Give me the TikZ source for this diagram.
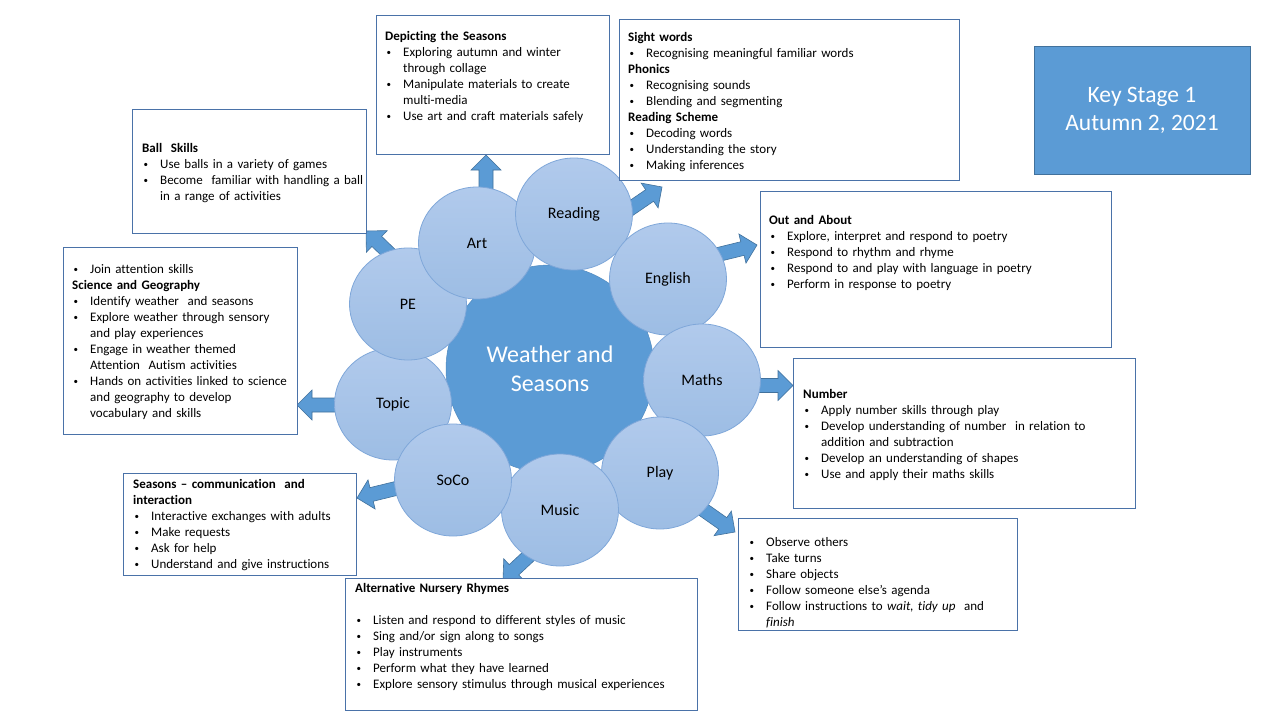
\documentclass[tikz,border=0pt]{standalone}
\usepackage{fontspec}
\setmainfont{Carlito}[Ligatures=NoCommon]
\usetikzlibrary{calc,shapes.geometric}
\definecolor{midblue}{HTML}{5B9BD5}
\definecolor{darkblue}{HTML}{41719C}
\definecolor{circtop}{HTML}{B1CAEC}
\definecolor{circbot}{HTML}{9DBDE4}
\definecolor{circline}{HTML}{7FA7D9}
\definecolor{boxline}{HTML}{4A72A8}
\newcommand{\smbul}{\raisebox{0.6pt}{\fontsize{9}{9}\selectfont•}}
\newcommand{\hd}[1]{\par\noindent\rule{0pt}{12pt}\textbf{#1}}
\newcommand{\bl}[1]{\par\noindent\rule{0pt}{12pt}\makebox[18pt][l]{\hspace{1.5pt}\smbul}#1}
\newcommand{\cl}[1]{\par\noindent\rule{0pt}{12pt}\hspace*{18pt}#1}
\newcommand{\blankln}{\par\noindent\rule{0pt}{12pt}}
\newcommand{\blockarrow}[2]{%
  \coordinate (ba-h) at ($(#2)!15pt!(#1)$);
  \filldraw[arrowst] ($(#1)!7pt!90:(#2)$) -- ($(ba-h)!7pt!90:(#2)$) -- ($(ba-h)!15pt!90:(#2)$) -- (#2)
    -- ($(ba-h)!15pt!-90:(#2)$) -- ($(ba-h)!7pt!-90:(#2)$) -- ($(#1)!7pt!-90:(#2)$) -- cycle;
}
\tikzset{
  arrowst/.style={fill=midblue, draw=darkblue, line width=0.6pt, line join=miter},
  subj/.style={ellipse, minimum width=117pt, minimum height=112pt, inner sep=0pt,
    top color=circtop, bottom color=circbot, draw=circline, line width=0.8pt,
    font=\fontsize{16}{19}\selectfont},
  boxst/.style={rectangle, draw=boxline, fill=white, line width=0.9pt, inner sep=0pt},
  textst/.style={anchor=north west, inner sep=0pt, text width=400pt, align=left,
    font=\fontsize{13}{16}\selectfont}
}
\begin{document}
\begin{tikzpicture}[x=1pt, y=-1pt]
\useasboundingbox[fill=white] (0,0) rectangle (1280,720);
% centre
\node[circle, fill=midblue, draw=midblue!90!black, line width=0.5pt, minimum size=208pt, inner sep=0pt,
  text=white, align=center, font=\fontsize{24}{29}\selectfont] (centre) at (550,369) {Weather and\\Seasons};
% arrow end points
\coordinate (art-s) at (486,192);   \coordinate (art-e) at (486,155);
\coordinate (rea-s) at (624,213);   \coordinate (rea-e) at (662,187);
\coordinate (eng-s) at (716,255);   \coordinate (eng-e) at (757,245);
\coordinate (mat-s) at (756,385.5); \coordinate (mat-e) at (793,385.5);
\coordinate (pla-s) at (698,506);   \coordinate (pla-e) at (735,532);
\coordinate (mus-s) at (532,553);   \coordinate (mus-e) at (503,580);
\coordinate (soc-s) at (398,488);   \coordinate (soc-e) at (357,498);
\coordinate (top-s) at (339,405);   \coordinate (top-e) at (297,405);
\coordinate (pe-s)  at (394,258);   \coordinate (pe-e)  at (366,231);
\blockarrow{art-s}{art-e}
\blockarrow{rea-s}{rea-e}
\blockarrow{eng-s}{eng-e}
\blockarrow{mat-s}{mat-e}
\blockarrow{pla-s}{pla-e}
\blockarrow{mus-s}{mus-e}
\blockarrow{soc-s}{soc-e}
\blockarrow{top-s}{top-e}
\blockarrow{pe-s}{pe-e}
% subject circles
\node[subj] (topic) at (393,404) {Topic};
\node[subj] (pe) at (408,304) {PE};
\node[subj] (art) at (477,243) {Art};
\node[subj] (reading) at (574,214) {Reading};
\node[subj] (english) at (668,279) {English};
\node[subj] (maths) at (702,380) {Maths};
\node[subj] (play) at (660,473) {Play};
\node[subj] (music) at (560,510) {Music};
\node[subj] (soco) at (453,480) {SoCo};
% boxes
\node[boxst, minimum width=233pt, minimum height=139pt] (b-art) at (492.5,84.5) {};
\node[boxst, minimum width=340pt, minimum height=161pt] (b-rea) at (789,99.5) {};
\node[boxst, minimum width=234pt, minimum height=124pt] (b-pe) at (249,171) {};
\node[boxst, minimum width=234pt, minimum height=187pt] (b-top) at (180,340.5) {};
\node[boxst, minimum width=351pt, minimum height=156pt] (b-eng) at (935.5,269) {};
\node[boxst, minimum width=342pt, minimum height=150pt] (b-mat) at (964,433) {};
\node[boxst, minimum width=233pt, minimum height=102pt] (b-soc) at (239.5,524) {};
\node[boxst, minimum width=352pt, minimum height=132pt] (b-mus) at (521,644) {};
\node[boxst, minimum width=279pt, minimum height=112pt] (b-pla) at (877.5,574) {};
\node[rectangle, fill=midblue, draw=darkblue, line width=0.9pt, minimum width=216pt, minimum height=128pt,
  text=white, align=center, font=\fontsize{23.5}{28.5}\selectfont] (ks) at (1142,110.5) {Key Stage 1\\Autumn 2, 2021};
% box texts
\node[textst] (t-art) at (385,24) {\hd{Depicting the Seasons}
  \bl{Exploring autumn and winter}\cl{through collage}
  \bl{Manipulate materials to create}\cl{multi-media}
  \bl{Use art and craft materials safely}};
\node[textst] (t-rea) at (628,25) {\hd{Sight words}
  \bl{Recognising meaningful familiar words}
  \hd{Phonics}
  \bl{Recognising sounds}
  \bl{Blending and segmenting}
  \hd{Reading Scheme}
  \bl{Decoding words}
  \bl{Understanding the story}
  \bl{Making inferences}};
\node[textst] (t-pe) at (142,136) {\hd{Ball\ \ Skills}
  \bl{Use balls in a variety of games}
  \bl{Become\ \ familiar with handling a ball}\cl{in a range of activities}};
\node[textst] (t-top) at (72,257) {\bl{Join attention skills}
  \hd{Science and Geography}
  \bl{Identify weather\ \ and seasons}
  \bl{Explore weather through sensory}\cl{and play experiences}
  \bl{Engage in weather themed}\cl{Attention\ \ Autism activities}
  \bl{Hands on activities linked to science}\cl{and geography to develop}\cl{vocabulary and skills}};
\node[textst] (t-eng) at (769,208) {\hd{Out and About}
  \bl{Explore, interpret and respond to poetry}
  \bl{Respond to rhythm and rhyme}
  \bl{Respond to and play with language in poetry}
  \bl{Perform in response to poetry}};
\node[textst] (t-mat) at (803,382) {\hd{Number}
  \bl{Apply number skills through play}
  \bl{Develop understanding of number\ \ in relation to}\cl{addition and subtraction}
  \bl{Develop an understanding of shapes}
  \bl{Use and apply their maths skills}};
\node[textst] (t-soc) at (133,472) {\hd{Seasons -- communication\ \ and}
  \hd{interaction}
  \bl{Interactive exchanges with adults}
  \bl{Make requests}
  \bl{Ask for help}
  \bl{Understand and give instructions}};
\node[textst] (t-mus) at (355,576) {\hd{Alternative Nursery Rhymes}
  \blankln
  \bl{Listen and respond to different styles of music}
  \bl{Sing and/or sign along to songs}
  \bl{Play instruments}
  \bl{Perform what they have learned}
  \bl{Explore sensory stimulus through musical experiences}};
\node[textst] (t-pla) at (748,530) {\bl{Observe others}
  \bl{Take turns}
  \bl{Share objects}
  \bl{Follow someone else's agenda}
  \bl{Follow instructions to \textit{wait, tidy up}\ \ and}\cl{\textit{finish}}};
\end{tikzpicture}
\end{document}
